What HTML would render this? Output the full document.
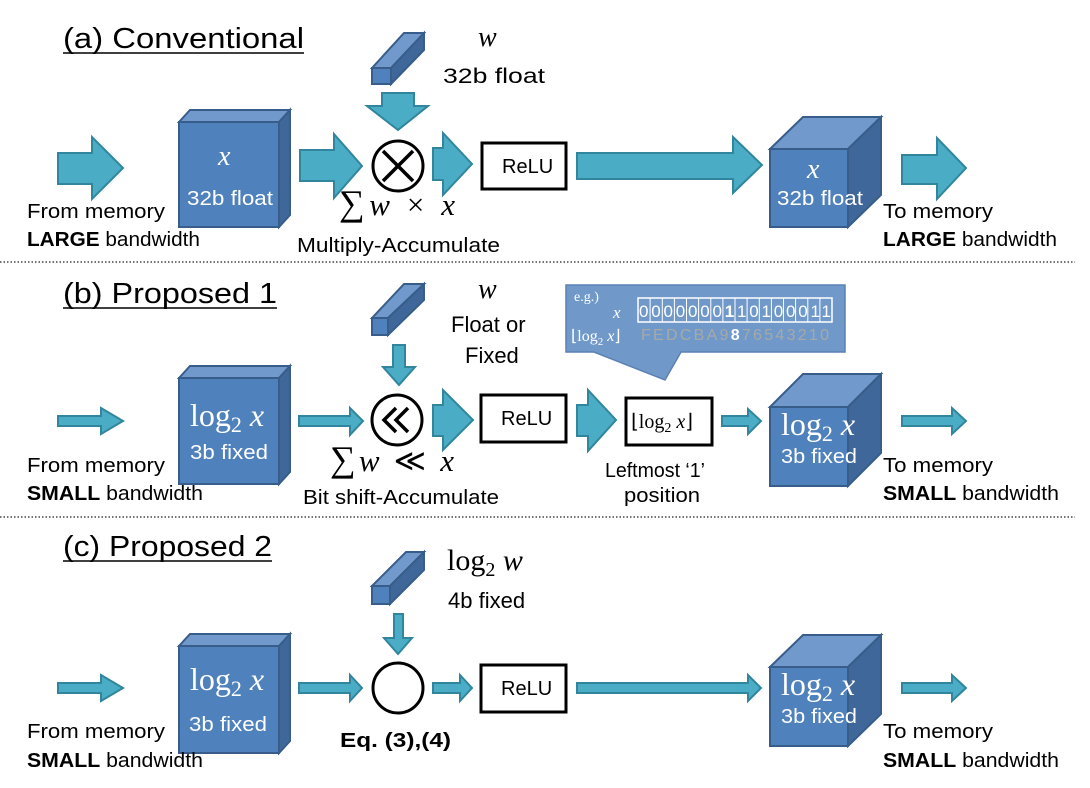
<!DOCTYPE html>
<html><head><meta charset="utf-8"><style>
html,body{margin:0;padding:0;background:#fff;}
svg{display:block;}
text{font-family:"Liberation Sans",sans-serif;}
.s{font-family:"Liberation Serif",serif;}
</style></head><body>
<svg width="1090" height="788" viewBox="0 0 1090 788" xmlns="http://www.w3.org/2000/svg">
<defs>
<style>
.ar{fill:#4bacc6;stroke:#31859c;stroke-width:2;stroke-linejoin:miter}
.fr{fill:#4f81bd;stroke:#385d8a;stroke-width:2}
.tp{fill:#7299cb;stroke:#385d8a;stroke-width:2}
.sd{fill:#3f679a;stroke:#385d8a;stroke-width:2}
.t{font-size:20px;fill:#000}
.w{fill:#fff}
</style>
</defs>

<!-- ===== (a) ===== -->
<text x="63" y="48" font-size="29" textLength="241" lengthAdjust="spacingAndGlyphs">(a) Conventional</text>
<line x1="63" y1="53" x2="304" y2="53" stroke="#000" stroke-width="1.5"/>
<polygon class="tp" points="372,68 404,33 424,33 391,68"/>
<polygon class="sd" points="391,68 424,33 424,50 391,84"/>
<rect class="fr" x="372" y="68" width="19" height="16"/>
<text class="s" x="478" y="46" font-size="28" font-style="italic">w</text>
<text x="443" y="83" font-size="21" textLength="102" lengthAdjust="spacingAndGlyphs">32b float</text>
<polygon class="ar" points="382,93 414,93 414,106 428,106 398,130 367,106 382,106"/>
<polygon class="ar" points="58,153 92,153 92,137 123,168 92,199 92,184 58,184"/>
<polygon class="tp" points="179,122 190,110 290,110 279,122"/>
<polygon class="sd" points="279,122 290,110 290,215 279,227"/>
<rect class="fr" x="179" y="122" width="100" height="105"/>
<text class="s w" x="218" y="165" font-size="28" font-style="italic">x</text>
<text class="w" x="187" y="205" font-size="20" textLength="86" lengthAdjust="spacingAndGlyphs">32b float</text>
<text class="t" x="27" y="218" textLength="138" lengthAdjust="spacingAndGlyphs">From memory</text>
<text class="t" x="27" y="246" textLength="173" lengthAdjust="spacingAndGlyphs"><tspan font-weight="bold">LARGE</tspan> bandwidth</text>
<polygon class="ar" points="300,150 334,150 334,134 362,166 334,198 334,181 300,181"/>
<circle cx="398" cy="166" r="25" fill="#fff" stroke="#000" stroke-width="3"/>
<line x1="383" y1="151" x2="413" y2="181" stroke="#000" stroke-width="3.5"/>
<line x1="413" y1="151" x2="383" y2="181" stroke="#000" stroke-width="3.5"/>
<polygon class="ar" points="433,148 443,148 443,133 472,164 443,195 443,180 433,180"/>
<text class="s" x="339" y="215" font-size="31" textLength="116" lengthAdjust="spacing"><tspan font-size="36">∑</tspan><tspan font-style="italic">w</tspan> × <tspan font-style="italic">x</tspan></text>
<text class="t" x="297" y="252" textLength="203" lengthAdjust="spacingAndGlyphs">Multiply-Accumulate</text>
<rect x="482" y="143" width="84" height="46" fill="#fff" stroke="#000" stroke-width="3"/>
<text x="502" y="173" font-size="20">ReLU</text>
<polygon class="ar" points="577,153 733,153 733,137 762,165 733,193 733,179 577,179"/>
<polygon class="tp" points="770,149 803,117 881,117 848,149"/>
<polygon class="sd" points="848,149 881,117 881,195 848,227"/>
<rect class="fr" x="770" y="149" width="78" height="78"/>
<text class="s w" x="807" y="178" font-size="28" font-style="italic">x</text>
<text class="w" x="777" y="205" font-size="20" textLength="86" lengthAdjust="spacingAndGlyphs">32b float</text>
<polygon class="ar" points="902,155 937,155 937,138 966,168 937,199 937,184 902,184"/>
<text class="t" x="883" y="218" textLength="110" lengthAdjust="spacingAndGlyphs">To memory</text>
<text class="t" x="883" y="246" textLength="174" lengthAdjust="spacingAndGlyphs"><tspan font-weight="bold">LARGE</tspan> bandwidth</text>

<line x1="0" y1="262" x2="1075" y2="262" stroke="#444" stroke-width="1.5" stroke-dasharray="1.5,2"/>

<!-- ===== (b) ===== -->
<text x="63" y="303" font-size="29" textLength="214" lengthAdjust="spacingAndGlyphs">(b) Proposed 1</text>
<line x1="63" y1="308" x2="277" y2="308" stroke="#000" stroke-width="1.5"/>
<polygon class="tp" points="372,318 404,284 424,284 388,318"/>
<polygon class="sd" points="388,318 424,284 424,300 388,335"/>
<rect class="fr" x="372" y="318" width="16" height="17"/>
<text class="s" x="478" y="298" font-size="28" font-style="italic">w</text>
<text x="451" y="332" font-size="22">Float or</text>
<text x="465" y="363" font-size="22">Fixed</text>
<polygon class="ar" points="393,345 405,345 405,367 415,367 399,385 383,367 393,367"/>
<polygon class="ar" points="58,416 101,416 101,408 123,421 101,434 101,426 58,426"/>
<polygon class="tp" points="179,378 190,366 290,366 279,378"/>
<polygon class="sd" points="279,378 290,366 290,472 279,484"/>
<rect class="fr" x="179" y="378" width="100" height="106"/>
<text class="s w" x="190" y="426" font-size="32">log<tspan font-size="22" dy="6">2</tspan><tspan dy="-6" font-style="italic"> x</tspan></text>
<text class="w" x="190" y="459" font-size="20" textLength="78" lengthAdjust="spacingAndGlyphs">3b fixed</text>
<text class="t" x="27" y="472" textLength="138" lengthAdjust="spacingAndGlyphs">From memory</text>
<text class="t" x="27" y="500" textLength="176" lengthAdjust="spacingAndGlyphs"><tspan font-weight="bold">SMALL</tspan> bandwidth</text>
<polygon class="ar" points="299,416 350,416 350,408 363,421 350,435 350,426 299,426"/>
<circle cx="397" cy="420" r="25" fill="#fff" stroke="#000" stroke-width="3"/>
<polyline points="396,408 384,420 396,432" fill="none" stroke="#000" stroke-width="3.5"/>
<polyline points="408,408 396,420 408,432" fill="none" stroke="#000" stroke-width="3.5"/>
<polygon class="ar" points="433,405 443,405 443,390 473,420 443,450 443,436 433,436"/>
<text class="s" x="330" y="471" font-size="31" textLength="124" lengthAdjust="spacing"><tspan font-size="36">∑</tspan><tspan font-style="italic">w</tspan> ≪ <tspan font-style="italic">x</tspan></text>
<text class="t" x="303" y="504" textLength="196" lengthAdjust="spacingAndGlyphs">Bit shift-Accumulate</text>
<rect x="481" y="395" width="85" height="47" fill="#fff" stroke="#000" stroke-width="3"/>
<text x="501" y="425" font-size="20">ReLU</text>
<polygon class="ar" points="577,405 588,405 588,390 616,420 588,451 588,436 577,436"/>
<polygon points="566,285 845,285 845,352 681,352 665,380 594,352 566,352" fill="#7099ca" stroke="#5b81b3" stroke-width="1.5"/>
<text class="w s" x="574" y="301" font-size="14">e.g.)</text>
<text class="w s" x="613" y="318" font-size="17" font-style="italic">x</text>
<text class="w s" x="571" y="341" font-size="16">⌊log<tspan font-size="11" dy="4">2</tspan><tspan dy="-4" font-style="italic"> x</tspan>⌋</text>
<rect x="638" y="298" width="194" height="24" fill="none" stroke="#fff" stroke-width="1.5"/>
<g stroke="#fff" stroke-width="1">
<line x1="650.1" y1="298" x2="650.1" y2="322"/><line x1="662.3" y1="298" x2="662.3" y2="322"/><line x1="674.4" y1="298" x2="674.4" y2="322"/><line x1="686.5" y1="298" x2="686.5" y2="322"/><line x1="698.6" y1="298" x2="698.6" y2="322"/><line x1="710.8" y1="298" x2="710.8" y2="322"/><line x1="722.9" y1="298" x2="722.9" y2="322"/><line x1="735" y1="298" x2="735" y2="322"/><line x1="747.1" y1="298" x2="747.1" y2="322"/><line x1="759.3" y1="298" x2="759.3" y2="322"/><line x1="771.4" y1="298" x2="771.4" y2="322"/><line x1="783.5" y1="298" x2="783.5" y2="322"/><line x1="795.6" y1="298" x2="795.6" y2="322"/><line x1="807.8" y1="298" x2="807.8" y2="322"/><line x1="819.9" y1="298" x2="819.9" y2="322"/>
</g>
<text class="w" x="639" y="317" font-size="17" textLength="192" lengthAdjust="spacing">0000000<tspan font-weight="bold">1</tspan>10100011</text>
<text x="641" y="340" font-size="16" fill="#a7a9a5" textLength="188" lengthAdjust="spacing">FEDCBA9<tspan font-weight="bold" fill="#fff">8</tspan>76543210</text>
<rect x="626" y="398" width="86" height="47" fill="#fff" stroke="#000" stroke-width="3"/>
<text class="s" x="631" y="428" font-size="20">⌊log<tspan font-size="14" dy="4">2</tspan><tspan dy="-4" font-style="italic"> x</tspan>⌋</text>
<text class="t" x="605" y="477" textLength="100" lengthAdjust="spacingAndGlyphs">Leftmost ‘1’</text>
<text class="t" x="624" y="502" textLength="76" lengthAdjust="spacingAndGlyphs">position</text>
<polygon class="ar" points="722,416 748,416 748,409 761,421 748,434 748,426 722,426"/>
<polygon class="tp" points="770,407 803,374 881,374 848,407"/>
<polygon class="sd" points="848,407 881,374 881,453 848,486"/>
<rect class="fr" x="770" y="407" width="78" height="79"/>
<text class="s w" x="781" y="435" font-size="32">log<tspan font-size="22" dy="6">2</tspan><tspan dy="-6" font-style="italic"> x</tspan></text>
<text class="w" x="781" y="463" font-size="20" textLength="76" lengthAdjust="spacingAndGlyphs">3b fixed</text>
<polygon class="ar" points="902,416 952,416 952,408 966,421 952,434 952,426 902,426"/>
<text class="t" x="883" y="472" textLength="110" lengthAdjust="spacingAndGlyphs">To memory</text>
<text class="t" x="883" y="500" textLength="176" lengthAdjust="spacingAndGlyphs"><tspan font-weight="bold">SMALL</tspan> bandwidth</text>

<line x1="0" y1="517" x2="1075" y2="517" stroke="#444" stroke-width="1.5" stroke-dasharray="1.5,2"/>

<!-- ===== (c) ===== -->
<text x="63" y="556" font-size="29" textLength="209" lengthAdjust="spacingAndGlyphs">(c) Proposed 2</text>
<line x1="63" y1="561" x2="272" y2="561" stroke="#000" stroke-width="1.5"/>
<polygon class="tp" points="372,586 406,552 424,552 390,586"/>
<polygon class="sd" points="390,586 424,552 424,570 390,604"/>
<rect class="fr" x="372" y="586" width="18" height="18"/>
<text class="s" x="447" y="570" font-size="30">log<tspan font-size="20" dy="6">2</tspan><tspan dy="-6" font-style="italic"> w</tspan></text>
<text x="448" y="608" font-size="22">4b fixed</text>
<polygon class="ar" points="394,614 403,614 403,638 412,638 398,654 384,638 394,638"/>
<polygon class="ar" points="58,683 101,683 101,675 123,688 101,701 101,693 58,693"/>
<polygon class="tp" points="179,646 190,634 290,634 279,646"/>
<polygon class="sd" points="279,646 290,634 290,741 279,753"/>
<rect class="fr" x="179" y="646" width="100" height="107"/>
<text class="s w" x="190" y="690" font-size="32">log<tspan font-size="22" dy="6">2</tspan><tspan dy="-6" font-style="italic"> x</tspan></text>
<text class="w" x="189" y="731" font-size="20" textLength="78" lengthAdjust="spacingAndGlyphs">3b fixed</text>
<text class="t" x="27" y="738" textLength="138" lengthAdjust="spacingAndGlyphs">From memory</text>
<text class="t" x="27" y="767" textLength="176" lengthAdjust="spacingAndGlyphs"><tspan font-weight="bold">SMALL</tspan> bandwidth</text>
<polygon class="ar" points="299,683 350,683 350,675 362,688 350,701 350,693 299,693"/>
<circle cx="398" cy="688" r="25" fill="#fff" stroke="#000" stroke-width="3"/>
<polygon class="ar" points="433,683 460,683 460,675 472,688 460,701 460,693 433,693"/>
<text x="340" y="747" font-size="20" font-weight="bold" textLength="111" lengthAdjust="spacingAndGlyphs">Eq. (3),(4)</text>
<rect x="481" y="665" width="85" height="47" fill="#fff" stroke="#000" stroke-width="3"/>
<text x="501" y="695" font-size="20">ReLU</text>
<polygon class="ar" points="577,683 748,683 748,675 761,688 748,701 748,693 577,693"/>
<polygon class="tp" points="770,667 803,635 881,635 848,667"/>
<polygon class="sd" points="848,667 881,635 881,714 848,746"/>
<rect class="fr" x="770" y="667" width="78" height="79"/>
<text class="s w" x="781" y="695" font-size="32">log<tspan font-size="22" dy="6">2</tspan><tspan dy="-6" font-style="italic"> x</tspan></text>
<text class="w" x="781" y="723" font-size="20" textLength="76" lengthAdjust="spacingAndGlyphs">3b fixed</text>
<polygon class="ar" points="902,683 952,683 952,675 966,688 952,701 952,693 902,693"/>
<text class="t" x="883" y="738" textLength="110" lengthAdjust="spacingAndGlyphs">To memory</text>
<text class="t" x="883" y="767" textLength="176" lengthAdjust="spacingAndGlyphs"><tspan font-weight="bold">SMALL</tspan> bandwidth</text>
</svg>
</body></html>
